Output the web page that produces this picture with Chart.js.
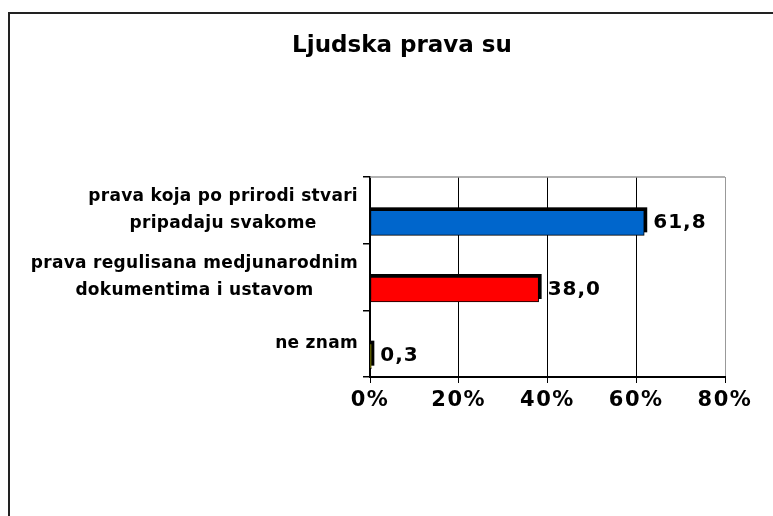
<!DOCTYPE html>
<html>
<head>
<meta charset="utf-8">
<script src="https://cdn.jsdelivr.net/npm/chart.js@4"></script>
<style>
  body { margin: 0; background: #fff; }
  canvas { display: block; }
</style>
</head>
<body>
<canvas id="chart" width="773" height="516"></canvas>
<script>
const chartTitle = "Ljudska prava su";
const categories = [
  ["prava koja po prirodi stvari", "pripadaju svakome"],
  ["prava regulisana medjunarodnim", "dokumentima i ustavom"],
  ["ne znam"]
];
const values = [61.8, 38.0, 0.3];
const barColors = ["#0066cc", "#ff0000", "#ffff00"];
// empty first series: Excel left a gap above each bar, this keeps it
const spacer = [null, null, null];

const FONT = "'DejaVu Sans', Verdana, sans-serif";

const decorations = {
  id: "decorations",
  beforeDraw(chart) {
    const { ctx } = chart;
    // axis tick text in the original is spaced out a bit
    ctx.letterSpacing = "1.5px";
    ctx.save();
    ctx.letterSpacing = "0px";
    ctx.strokeStyle = "#222";
    ctx.lineWidth = 2;
    ctx.strokeRect(9, 13, 900, 700);
    ctx.fillStyle = "#000";
    ctx.font = `bold 23px ${FONT}`;
    ctx.textAlign = "center";
    ctx.textBaseline = "alphabetic";
    ctx.fillText(chartTitle, 402, 52);
    ctx.restore();
  },
  beforeDatasetsDraw(chart) {
    // black drop shadow up and to the right of every bar
    const { ctx } = chart;
    ctx.save();
    ctx.fillStyle = "#000";
    chart.getDatasetMeta(1).data.forEach((bar) => {
      const { x, y, base, height } = bar.getProps(["x", "y", "base", "height"], true);
      ctx.fillRect(base, y - height / 2 - 3, x - base + 3, height);
    });
    ctx.restore();
  },
  afterDatasetsDraw(chart) {
    const { ctx, chartArea } = chart;
    ctx.save();
    ctx.strokeStyle = "#999";
    ctx.lineWidth = 1.5;
    ctx.beginPath();
    ctx.moveTo(chartArea.left, chartArea.top);
    ctx.lineTo(chartArea.right, chartArea.top);
    ctx.stroke();

    ctx.fillStyle = "#000";
    ctx.letterSpacing = "1px";
    ctx.font = `bold 20px ${FONT}`;
    ctx.textAlign = "left";
    ctx.textBaseline = "middle";
    chart.getDatasetMeta(1).data.forEach((bar, i) => {
      ctx.fillText(values[i].toFixed(1).replace(".", ","), bar.x + 9, bar.y);
    });

    const yScale = chart.scales.y;
    ctx.letterSpacing = "0.3px";
    ctx.font = `bold 17px ${FONT}`;
    ctx.textAlign = "center";
    categories.forEach((lines, i) => {
      const cy = yScale.getPixelForValue(i);
      const w = Math.max(...lines.map((l) => ctx.measureText(l).width));
      const cx = yScale.left - 5 - w / 2;
      lines.forEach((line, j) => {
        ctx.fillText(line, cx, cy + (j - (lines.length - 1) / 2) * 27);
      });
    });
    ctx.restore();
  }
};

new Chart(document.getElementById("chart"), {
  type: "bar",
  data: {
    labels: categories.map((c) => c.join(" ")),
    datasets: [
      { data: spacer, barThickness: 25 },
      {
        data: values,
        backgroundColor: barColors,
        borderColor: "#000",
        borderWidth: 1,
        borderSkipped: false,
        barThickness: 25
      }
    ]
  },
  options: {
    indexAxis: "y",
    responsive: false,
    animation: false,
    layout: { padding: { left: 363, right: 48, top: 177, bottom: 99 } },
    plugins: { legend: { display: false }, tooltip: { enabled: false } },
    scales: {
      x: {
        min: 0,
        max: 80,
        ticks: {
          stepSize: 20,
          callback: (v) => v + "%",
          color: "#000",
          padding: 5,
          maxRotation: 0,
          font: { family: FONT, size: 21, weight: "bold" }
        },
        grid: {
          color: (c) => (c.tick && c.tick.value === 80 ? "#999" : "#000"),
          tickColor: "#000",
          tickLength: 6,
          lineWidth: 1
        },
        border: { color: "#000", width: 2 },
        afterFit: (s) => { s.height = 40; }
      },
      y: {
        ticks: { display: false },
        grid: { drawOnChartArea: false, tickLength: 7, color: "#000", lineWidth: 1.5 },
        border: { color: "#000", width: 2 },
        afterFit: (s) => { s.width = 7; }
      }
    }
  },
  plugins: [decorations]
});
</script>
</body>
</html>
